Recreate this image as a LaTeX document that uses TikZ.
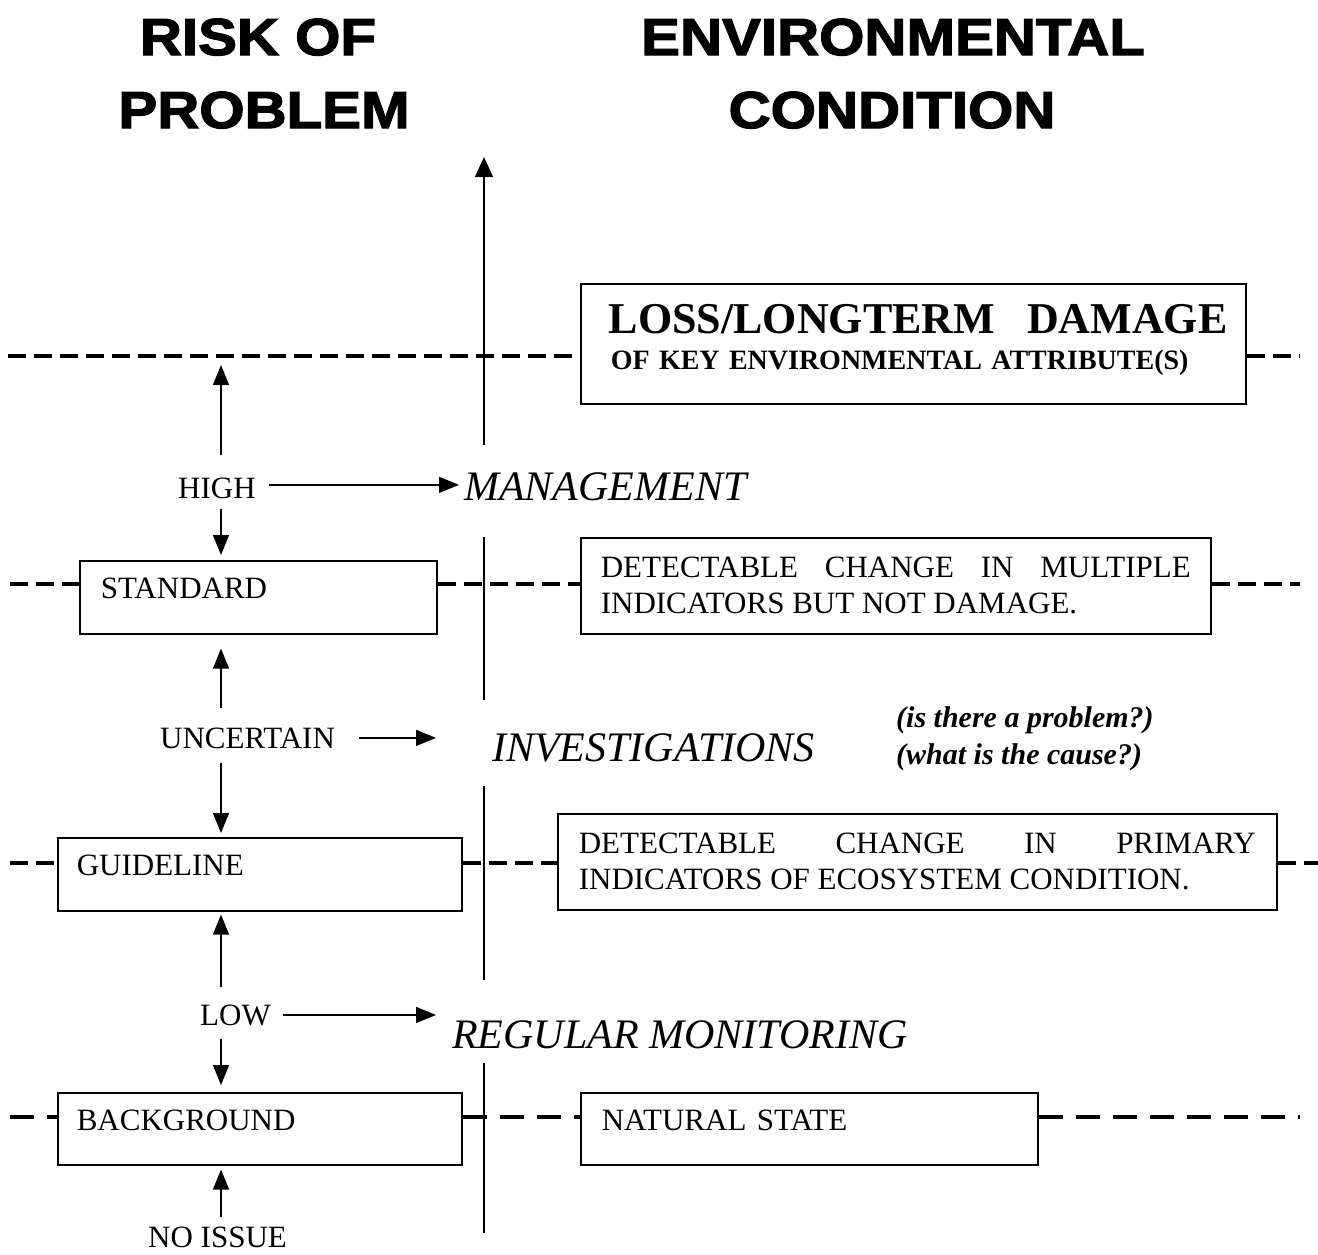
\documentclass[tikz,border=0pt]{standalone}
\usepackage{fontspec}
\setmainfont{Liberation Serif}
\newfontfamily\titlefont{Liberation Sans}[FakeStretch=1.12, BoldFeatures={FakeBold=2.5}]
\usetikzlibrary{arrows.meta}
\tikzset{
  lbl/.style={inner sep=0pt, font=\fontsize{31}{36}\selectfont},
  act/.style={inner sep=0pt, font=\fontsize{42}{48}\selectfont\itshape},
  ttl/.style={inner sep=0pt, font=\titlefont\bfseries\fontsize{52}{60}\selectfont},
  box/.style={draw, line width=1.6pt, inner ysep=0pt, anchor=north west, font=\fontsize{31}{36}\selectfont},
  arr/.style={line width=1.4pt, -{Triangle[length=20pt,width=16pt]}},
  axisline/.style={line width=1.4pt},
  dline/.style={line width=3.2pt, dash pattern=on 18pt off 8pt},
  dlinethick/.style={line width=4pt, dash pattern=on 24pt off 13pt},
}
\begin{document}
\begin{tikzpicture}[x=1pt,y=-1pt]
\useasboundingbox (0,0) rectangle (1318,1254);
% titles
\node[ttl, anchor=base] (t1) at (258,55) {RISK OF};
\node[ttl, anchor=base] (t2) at (264,128) {PROBLEM};
\node[ttl, anchor=base] (t3) at (893,55) {ENVIRONMENTAL};
\node[ttl, anchor=base] (t4) at (892,128) {CONDITION};
% helper coordinates
\coordinate (vx) at (221,0);
\coordinate (ie) at (436,0);
\coordinate (d1l) at (8,356);   \coordinate (d1r) at (1300,356);
\coordinate (d2l) at (10,584);  \coordinate (d2r) at (1300,584);
\coordinate (d3l) at (10,863);  \coordinate (d3r) at (1318,863);
\coordinate (d4l) at (10,1117); \coordinate (d4r) at (1300,1117);
\coordinate (ax1b) at (484,445); \coordinate (ax1t) at (484,157);
\coordinate (ax2t) at (484,537); \coordinate (ax2b) at (484,700);
\coordinate (ax3t) at (484,786); \coordinate (ax3b) at (484,980);
\coordinate (ax4t) at (484,1063); \coordinate (ax4b) at (484,1233);
% boxes
\node[box, text width=609pt, inner xsep=28pt, text height=50pt, text depth=70pt, align=left,
      font=\bfseries\fontsize{28}{36}\selectfont] (loss) at (580,283)
  {\mbox{\fontsize{44}{36}\selectfont LOSS/LONGTERM\hspace{32pt}DAMAGE}\\\hspace*{2pt}OF KEY ENVIRONMENTAL ATTRIBUTE(S)};
\node[box, text width=590pt, inner xsep=20pt, text height=40pt, text depth=56pt, align=justify] (mult) at (580,537)
  {DETECTABLE CHANGE IN MULTIPLE\linebreak INDICATORS BUT NOT DAMAGE.};
\node[box, text width=677pt, inner xsep=21pt, text height=40pt, text depth=56pt, align=justify] (prim) at (557,813)
  {DETECTABLE CHANGE IN PRIMARY\linebreak INDICATORS OF ECOSYSTEM CONDITION.};
\node[box, text width=315pt, inner xsep=21pt, text height=38pt, text depth=35pt, align=left] (std) at (79,560) {STANDARD};
\node[box, text width=366pt, inner xsep=19pt, text height=38pt, text depth=35pt, align=left] (guide) at (57,837) {GUIDELINE};
\node[box, text width=366pt, inner xsep=19pt, text height=38pt, text depth=34pt, align=left] (bg) at (57,1092) {BACKGROUND};
\node[box, text width=415pt, inner xsep=21pt, text height=38pt, text depth=34pt, align=left] (nat) at (580,1092) {NATURAL STATE};
% labels
\node[lbl, anchor=base west] (hi) at (178,498) {HIGH};
\node[lbl, anchor=base west] (unc) at (160,748) {UNCERTAIN};
\node[lbl, anchor=base west] (low) at (200,1025) {LOW};
\node[lbl, anchor=base west] (noi) at (148,1247) {NO ISSUE};
\node[act, anchor=base west] (mgmt) at (464,500) {MANAGEMENT};
\node[act, anchor=base west] (inv) at (492,761) {INVESTIGATIONS};
\node[act, anchor=base west] (reg) at (452,1048) {REGULAR MONITORING};
\node[anchor=base west, inner sep=0pt, align=left, font=\bfseries\itshape\fontsize{30}{37}\selectfont] (q) at (896,764)
  {(is there a problem?)\\(what is the cause?)};
% dashed levels
\draw[dline] (d1l) -- (d1l -| loss.west);
\draw[dline] (d1l -| loss.east) -- (d1r);
\draw[dline] (d2l) -- (d2l -| std.west);
\draw[dline] (d2l -| std.east) -- (d2l -| mult.west);
\draw[dline] (d2l -| mult.east) -- (d2r);
\draw[dline] (d3l) -- (d3l -| guide.west);
\draw[dline] (d3l -| guide.east) -- (d3l -| prim.west);
\draw[dline] (d3l -| prim.east) -- (d3r);
\draw[dlinethick] (d4l) -- (d4l -| bg.west);
\draw[dlinethick] (d4l -| bg.east) -- (d4l -| nat.west);
\draw[dlinethick] (d4l -| nat.east) -- (d4r);
% axis
\draw[axisline, -{Triangle[length=20pt,width=18pt]}] (ax1b) -- (ax1t);
\draw[axisline] (ax2t) -- (ax2b);
\draw[axisline] (ax3t) -- (ax3b);
\draw[axisline] (ax4t) -- (ax4b);
% vertical arrows
\draw[arr, shorten <=22pt, shorten >=9pt] (hi.north -| vx) -- (d1l -| vx);
\draw[arr, shorten <=10pt, shorten >=5pt] (hi.south -| vx) -- (std.north -| vx);
\draw[arr, shorten <=19pt, shorten >=14pt] (unc.north -| vx) -- (std.south -| vx);
\draw[arr, shorten <=14pt, shorten >=4pt] (unc.south -| vx) -- (guide.north -| vx);
\draw[arr, shorten <=17pt, shorten >=3pt] (low.north -| vx) -- (guide.south -| vx);
\draw[arr, shorten <=13pt, shorten >=7pt] (low.south -| vx) -- (bg.north -| vx);
\draw[arr, shorten <=9pt, shorten >=4pt] (noi.north -| vx) -- (bg.south -| vx);
% horizontal arrows
\draw[arr, shorten <=13pt, shorten >=5pt] ([yshift=3pt]hi.east) -- ([yshift=3pt]hi.east -| mgmt.west);
\draw[arr, shorten <=24pt] (unc.east) -- (unc.east -| ie);
\draw[arr, shorten <=12pt] (low.east) -- (low.east -| ie);
\end{tikzpicture}
\end{document}
